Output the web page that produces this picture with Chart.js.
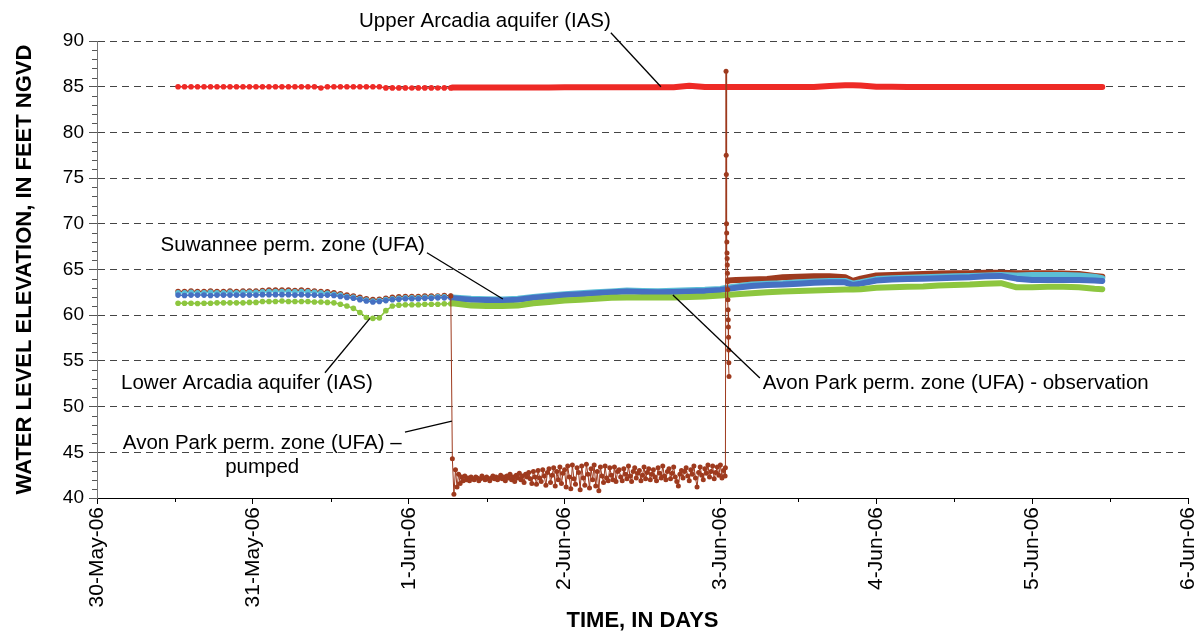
<!DOCTYPE html>
<html><head><meta charset="utf-8">
<script src="https://cdn.jsdelivr.net/npm/chart.js@4.4.1/dist/chart.umd.min.js"></script>
<style>html,body{margin:0;padding:0;background:#fff;}canvas{display:block;}</style>
</head><body>
<canvas id="c" width="1200" height="634"></canvas>
<script>
// ---------- DATA (x = days since 30-May-06 00:00) ----------
const tickLabels = ['30-May-06','31-May-06','1-Jun-06','2-Jun-06','3-Jun-06','4-Jun-06','5-Jun-06','6-Jun-06'];

// hourly readings before pumping started
const earlyStart = 0.52;
const earlyStepDays = 1 / 24;
const upperEarly = [85.0,85.0,85.0,85.0,85.0,85.0,85.0,85.0,85.0,85.0,
  85.0,85.0,85.0,85.0,85.0,85.0,85.0,85.0,85.0,85.0,
  85.0,85.0,84.85,85.0,85.0,85.0,85.0,85.0,85.0,85.0,
  85.0,85.0,84.87,84.87,84.87,84.87,84.85,84.87,84.87,84.87,
  84.85,84.87,84.87];
const suwanneeEarly = [62.2,62.15,62.2,62.2,62.2,62.15,62.2,62.2,62.2,62.2,
  62.2,62.2,62.2,62.25,62.25,62.25,62.25,62.25,62.2,62.25,
  62.2,62.2,62.15,62.2,62.15,
  62.05,61.95,61.85,61.7,61.55,61.45,61.5,61.6,61.7,61.75,
  61.8,61.8,61.8,61.85,61.85,61.9,61.9,61.9];
const obsEarly = [62.45,62.45,62.5,62.45,62.45,62.5,62.45,62.45,62.5,62.45,
  62.5,62.5,62.5,62.55,62.6,62.6,62.6,62.6,62.55,62.6,
  62.55,62.5,62.45,62.4,62.3,
  62.2,62.05,61.95,61.8,61.65,61.55,61.6,61.7,61.8,61.85,
  61.9,61.9,61.9,61.95,61.95,62.0,62.0,62.0];
const pumpedEarly = [62.6,62.6,62.65,62.6,62.6,62.65,62.6,62.6,62.65,62.6,
  62.65,62.65,62.65,62.7,62.75,62.75,62.75,62.75,62.7,62.75,
  62.7,62.65,62.6,62.55,62.45,
  62.35,62.2,62.1,61.95,61.8,61.7,61.75,61.85,61.95,62.0,
  62.05,62.05,62.05,62.1,62.1,62.1,62.15,62.1];
const lowerEarly = [61.3,61.3,61.3,61.28,61.3,61.3,61.35,61.35,61.35,61.35,
  61.35,61.4,61.4,61.5,61.5,61.5,61.55,61.5,61.5,61.5,
  61.5,61.45,61.45,61.4,61.35,
  61.2,61.0,60.75,60.3,59.75,59.65,59.7,60.5,61.0,61.1,
  61.15,61.15,61.15,61.2,61.2,61.2,61.25,61.25];

// frequent readings after pumping started
const lateT = [2.28,2.4,2.5,2.6,2.7,2.8,2.9,3.0,3.1,3.2,
  3.3,3.4,3.5,3.6,3.7,3.8,3.9,4.0,4.04,4.1,
  4.2,4.3,4.4,4.5,4.6,4.7,4.8,4.85,4.9,5.0,
  5.1,5.2,5.3,5.4,5.5,5.6,5.7,5.8,5.9,6.0,
  6.1,6.2,6.3,6.4,6.45];
const upperLate = [84.92,84.92,84.92,84.92,84.92,84.92,84.92,84.93,84.93,84.93,
  84.93,84.93,84.93,84.93,84.93,85.1,84.97,84.97,84.97,84.97,
  84.97,84.97,84.97,84.97,84.97,85.08,85.15,85.15,85.12,85.0,
  85.0,84.98,84.98,84.98,84.98,84.98,84.98,84.98,84.98,84.98,
  84.98,84.98,84.98,84.98,84.98];
const suwanneeLate = [61.85,61.7,61.65,61.6,61.7,61.9,62.05,62.2,62.3,62.4,
  62.5,62.6,62.55,62.5,62.55,62.6,62.65,62.75,62.85,63.0,
  63.2,63.3,63.35,63.45,63.55,63.6,63.6,63.3,63.45,63.8,
  63.9,63.95,64.0,64.05,64.1,64.15,64.25,64.3,64.0,63.85,
  63.85,63.85,63.85,63.8,63.75];
const obsLate = [61.95,61.8,61.75,61.72,61.8,62.0,62.15,62.3,62.4,62.5,
  62.6,62.7,62.65,62.62,62.67,62.72,62.78,62.88,63.0,63.15,
  63.35,63.45,63.5,63.6,63.7,63.75,63.75,63.45,63.6,63.95,
  64.05,64.1,64.15,64.2,64.25,64.3,64.35,64.4,64.35,64.4,
  64.4,64.4,64.35,64.2,64.05];
const lowerLate = [61.3,61.05,61.0,61.0,61.05,61.3,61.45,61.6,61.7,61.8,
  61.9,61.95,61.95,61.95,61.95,62.0,62.05,62.15,62.2,62.3,
  62.4,62.5,62.6,62.65,62.7,62.75,62.8,62.8,62.85,63.0,
  63.05,63.1,63.15,63.25,63.3,63.35,63.45,63.5,63.05,63.05,
  63.1,63.1,63.05,62.9,62.85];

// pumped well during pumping (one reading every 0.01 day)
const pumpStart = 2.28;
const pumpStepDays = 0.01;
const pumpV = [44.3,40.4,43.1,41.2,42.6,41.6,42.3,41.9,42.4,42.0,
  42.2,41.9,42.3,42.1,42.0,42.3,42.2,41.9,42.1,42.4,
  42.2,42.0,42.3,42.1,41.9,42.2,42.4,42.1,42.3,42.0,
  42.2,42.5,42.1,42.3,41.9,42.4,42.2,42.6,42.0,42.3,
  41.8,42.5,42.2,42.7,42.0,42.4,41.7,42.6,42.3,42.8,
  42.1,41.6,42.9,42.3,41.5,43.0,42.2,41.8,43.1,42.4,
  41.4,42.8,43.2,41.7,42.5,43.3,41.3,42.9,42.0,43.4,
  41.6,42.7,43.1,41.2,43.5,42.3,41.0,43.6,42.1,41.5,
  43.3,42.8,40.9,43.5,42.2,41.4,43.7,42.6,41.1,43.2,
  42.0,43.6,41.3,42.9,40.8,43.4,42.4,41.7,43.5,42.2,
  41.9,43.3,42.5,42.0,43.4,41.8,42.9,43.1,42.3,41.9,
  43.2,42.6,42.1,43.5,42.4,41.8,42.9,43.3,42.2,42.7,
  43.0,41.9,42.5,43.4,42.1,42.8,43.2,42.0,42.6,43.1,
  42.3,41.9,43.3,42.7,42.2,43.5,42.4,42.0,42.9,43.2,
  42.1,42.7,43.4,42.3,41.8,41.3,42.6,43.0,42.2,42.9,
  43.3,42.4,41.9,43.1,42.6,43.5,42.2,41.2,42.8,43.4,
  42.5,42.0,43.2,42.7,43.6,42.3,42.9,43.5,42.1,42.8,
  43.4,42.5,43.6,42.2,43.0,42.4];
// pump shut-off spike
const spikeT = [4.032,4.036,4.037,4.038,4.039,4.040,4.041,4.042,4.043,4.044,4.045,4.046,4.047,4.048,4.049,4.050,4.051,4.052,4.053,4.054,4.055];
const spikeV = [43.3,86.7,77.5,75.4,70.0,69.0,68.0,66.8,66.2,65.5,64.6,63.7,62.8,61.7,60.6,59.5,58.7,57.6,56.2,54.8,53.3];
// pumped well recovery
const recoveryT = [4.05,4.1,4.2,4.3,4.4,4.5,4.6,4.7,4.8,4.85,4.9,5.0,5.1,5.2,5.3,5.4,5.5,5.6,5.7,5.8,5.9,6.0,6.1,6.2,6.3,6.4,6.45];
const recoveryV = [63.8,63.85,63.9,63.95,64.15,64.2,64.25,64.25,64.15,63.75,64.0,64.35,64.4,64.45,64.5,64.55,64.6,64.6,64.65,64.65,64.6,64.6,64.6,64.55,64.5,64.3,64.2];

// ---------- STYLE ----------
const COL = {upper:'#ee2a26', pumped:'#9e3a1e', suw:'#4670c2', obs:'#5cbfd6', lower:'#8dc63f'};
const FONT = '"Liberation Sans", Arial, Helvetica, sans-serif';

const early = vals => vals.map((v,i) => ({x: earlyStart + i*earlyStepDays, y: v}));
const paired = (ts, vs) => ts.map((t,i) => ({x: t, y: vs[i]}));

const sparseDs = (data, color) => ({data, borderColor: color, backgroundColor: color, borderWidth: 1.5,
  pointRadius: 2.8, pointBorderWidth: 0, pointBackgroundColor: color, tension: 0});
const thickDs = (data, color) => ({data, borderColor: color, backgroundColor: color, borderWidth: 6,
  pointRadius: 0, borderCapStyle: 'round', borderJoinStyle: 'round', tension: 0});

const pumpData = [early(pumpedEarly)[pumpedEarly.length-1]]
  .concat(pumpV.map((v,i) => ({x: pumpStart + i*pumpStepDays, y: v})))
  .concat(paired(spikeT, spikeV));

const datasets = [
  {data: pumpData, borderColor: COL.pumped, backgroundColor: COL.pumped, borderWidth: 1,
   pointRadius: 2.5, pointBorderWidth: 0, pointBackgroundColor: COL.pumped, tension: 0},
  sparseDs(early(upperEarly), COL.upper),
  thickDs(paired(lateT, upperLate), COL.upper),
  sparseDs(early(lowerEarly), COL.lower),
  thickDs(paired(lateT, lowerLate), COL.lower),
  sparseDs(early(suwanneeEarly), COL.suw),
  thickDs(paired(lateT, suwanneeLate), COL.suw),
  sparseDs(early(obsEarly), COL.obs),
  thickDs(paired(lateT, obsLate), COL.obs),
  thickDs(paired(recoveryT, recoveryV), COL.pumped),
  sparseDs(early(pumpedEarly), COL.pumped)
];

// annotation labels (data coordinates)
const notes = [
  {lines:['Upper Arcadia aquifer (IAS)'], t:3.297, v:92.2, align:'right'},
  {lines:['Suwannee perm. zone (UFA)'], t:2.104, v:67.68, align:'right'},
  {lines:['Lower Arcadia aquifer (IAS)'], t:0.962, v:52.55, align:'center'},
  {lines:['Avon Park perm. zone (UFA) - observation'], t:4.272, v:52.58, align:'left'},
  {lines:['Avon Park perm. zone (UFA) \u2013','pumped'], t:1.06, v:46.02, align:'center'}
];
const leaders = [
  [3.297, 90.9, 3.618, 85.0],
  [2.117, 66.84, 2.604, 61.77],
  [1.4625, 53.7, 1.751, 59.66],
  [3.695, 62.2, 4.253, 53.13],
  [1.976, 47.22, 2.277, 48.42]
];

const minorTicks = {
  id: 'minorTicks',
  afterDraw(chart) {
    const {ctx, scales: {x, y}} = chart;
    ctx.save();
    ctx.strokeStyle = '#555'; ctx.lineWidth = 1;
    for (let v = 41; v < 90; v++) {
      if (v % 5 === 0) continue;
      const py = Math.round(y.getPixelForValue(v)) + 0.5;
      ctx.beginPath(); ctx.moveTo(y.right - 5, py); ctx.lineTo(y.right, py); ctx.stroke();
    }
    ctx.strokeStyle = '#000';
    for (let d = 0.5; d < 7; d += 1) {
      const px = Math.round(x.getPixelForValue(d)) + 0.5;
      ctx.beginPath(); ctx.moveTo(px, x.top); ctx.lineTo(px, x.top + 4); ctx.stroke();
    }
    ctx.restore();
  }
};

const annotate = {
  id: 'annotate',
  afterDraw(chart) {
    const {ctx, scales: {x, y}} = chart;
    ctx.save();
    ctx.strokeStyle = '#000'; ctx.lineWidth = 1.3;
    leaders.forEach(([t1, v1, t2, v2]) => {
      ctx.beginPath();
      ctx.moveTo(x.getPixelForValue(t1), y.getPixelForValue(v1));
      ctx.lineTo(x.getPixelForValue(t2), y.getPixelForValue(v2));
      ctx.stroke();
    });
    ctx.fillStyle = '#000';
    ctx.font = '20.5px ' + FONT;
    ctx.textBaseline = 'middle';
    notes.forEach(n => {
      ctx.textAlign = n.align;
      const px = x.getPixelForValue(n.t), py = y.getPixelForValue(n.v);
      n.lines.forEach((s, k) => ctx.fillText(s, px, py + k * 24));
    });
    ctx.restore();
  }
};

new Chart(document.getElementById('c'), {
  type: 'line',
  data: {datasets},
  options: {
    responsive: false, animation: false, devicePixelRatio: 1, events: [],
    layout: {padding: {left: 0, right: 12, top: 41, bottom: 0}},
    plugins: {legend: {display: false}, tooltip: {enabled: false}},
    scales: {
      x: {
        type: 'linear', min: 0, max: 7,
        ticks: {stepSize: 1, autoSkip: false, minRotation: 90, maxRotation: 90, padding: 3,
          color: '#000', font: {family: FONT, size: 21},
          callback: v => tickLabels[Math.round(v)]},
        grid: {drawOnChartArea: false, drawTicks: true, tickLength: 6, tickColor: '#000'},
        border: {display: true, color: '#000', width: 1},
        title: {display: true, text: 'TIME, IN DAYS', color: '#000',
          font: {family: FONT, size: 22, weight: 'bold'}, padding: {top: 0, bottom: 0}},
        afterFit: s => { s.height = 136; s.paddingLeft = 0; s.paddingRight = 0; }
      },
      y: {
        min: 40, max: 90,
        ticks: {stepSize: 5, padding: 5, color: '#000', font: {family: FONT, size: 19}},
        grid: {color: '#444', lineWidth: 1, tickLength: 8, tickColor: '#555'},
        border: {display: true, color: '#777', width: 1, dash: [7, 5]},
        title: {display: true, text: 'WATER LEVEL ELEVATION, IN FEET NGVD', color: '#000',
          font: {family: FONT, size: 22, weight: 'bold'}, padding: {top: 12, bottom: 0}},
        afterFit: s => { s.width = 97; s.paddingTop = 0; s.paddingBottom = 0; }
      }
    }
  },
  plugins: [minorTicks, annotate]
});
</script>
</body></html>
